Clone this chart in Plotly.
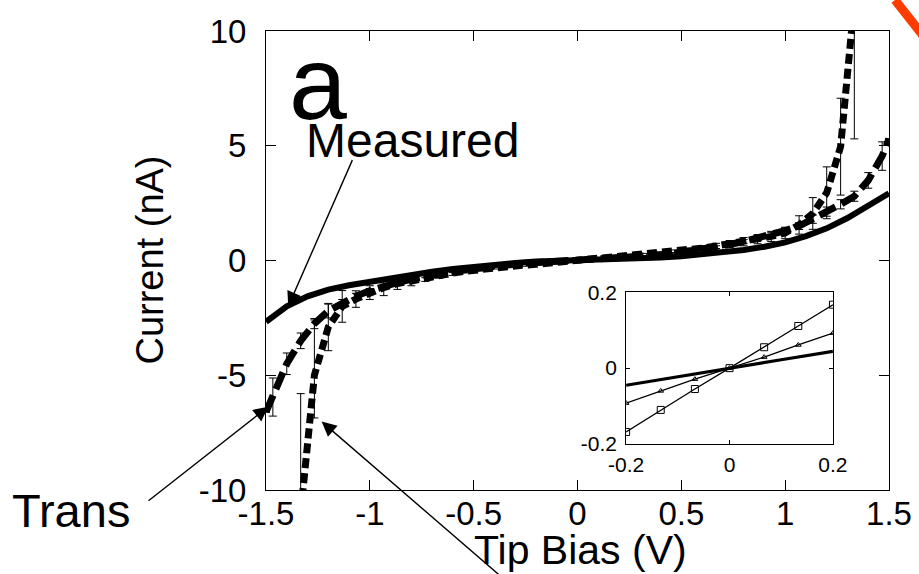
import plotly.graph_objects as go

# ---- main panel data: tip bias (V) vs tunnelling current (nA) ----
bias_measured = [-1.5, -1.4, -1.3, -1.2, -1.1, -1.0, -0.9, -0.8, -0.7, -0.6, -0.5,
                 -0.4, -0.3, -0.2, -0.1, 0.0, 0.1, 0.2, 0.3, 0.4, 0.5, 0.6, 0.7,
                 0.8, 0.9, 1.0, 1.1, 1.2, 1.3, 1.4, 1.5]
current_measured = [-2.67, -2.0, -1.56, -1.27, -1.08, -0.92, -0.76, -0.62, -0.49, -0.37, -0.27,
                    -0.18, -0.11, -0.045, -0.022, 0.0, 0.022, 0.044, 0.08, 0.13, 0.19, 0.26, 0.35,
                    0.46, 0.6, 0.79, 1.06, 1.4, 1.85, 2.37, 2.93]

bias_trans = [-1.5, -1.467, -1.4, -1.333, -1.267, -1.2, -1.133, -1.067, -1.0, -0.933, -0.867,
              -0.8, -0.733, -0.667, -0.6, -0.533, -0.467, -0.4, -0.333, -0.267, -0.2, -0.133,
              -0.067, 0.0, 0.067, 0.133, 0.2, 0.267, 0.333, 0.4, 0.467, 0.533, 0.6, 0.667,
              0.733, 0.8, 0.867, 0.933, 1.0, 1.067, 1.133, 1.2, 1.267, 1.333, 1.4, 1.467, 1.5]
current_trans = [-6.6, -5.95, -4.5, -3.5, -2.75, -2.2, -1.85, -1.55, -1.32, -1.12, -0.96,
                 -0.82, -0.69, -0.58, -0.48, -0.39, -0.31, -0.24, -0.18, -0.13, -0.092, -0.06,
                 -0.029, 0.0, 0.029, 0.061, 0.092, 0.13, 0.18, 0.24, 0.31, 0.39, 0.48, 0.58,
                 0.7, 0.83, 0.97, 1.13, 1.3, 1.5, 1.8, 2.13, 2.45, 2.8, 3.49, 4.55, 5.3]
err_trans = [0.0, 0.83, 0.47, 0.34, 0.22, 0.3, 0.15, 0.12, 0.1, 0.09, 0.08,
             0.07, 0.06, 0.06, 0.05, 0.05, 0.04, 0.04, 0.03, 0.03, 0.02, 0.02,
             0.02, 0.0, 0.02, 0.02, 0.02, 0.03, 0.03, 0.04, 0.04, 0.05, 0.05, 0.06,
             0.07, 0.08, 0.09, 0.1, 0.12, 0.15, 0.18, 0.2, 0.2, 0.22, 0.34, 0.62, 0.0]

bias_third = [-1.333, -1.267, -1.2, -1.133, -1.067, -1.0, -0.933, -0.867, -0.8, -0.733,
              -0.667, -0.6, -0.533, -0.467, -0.4, -0.333, -0.267, -0.2, -0.133, -0.067,
              0.0, 0.067, 0.133, 0.2, 0.267, 0.333, 0.4, 0.467, 0.533, 0.6, 0.667,
              0.733, 0.8, 0.867, 0.933, 1.0, 1.067, 1.133, 1.2, 1.267, 1.333]
current_third = [-11.0, -5.0, -2.9, -2.0, -1.68, -1.4, -1.18, -1.01, -0.88, -0.76,
                 -0.65, -0.55, -0.46, -0.38, -0.31, -0.25, -0.21, -0.168, -0.11, -0.055,
                 0.0, 0.055, 0.111, 0.167, 0.21, 0.26, 0.32, 0.39, 0.46, 0.54, 0.63,
                 0.72, 0.82, 0.93, 1.05, 1.2, 1.55, 2.05, 2.95, 4.96, 11.3]
err_third_up = [5.2, 2.41, 1.03, 0.69, 0.36, 0.3, 0.35, 0.25, 0.22, 0.15,
                0.12, 0.1, 0.08, 0.07, 0.06, 0.05, 0.04, 0.03, 0.02, 0.02,
                0.0, 0.02, 0.02, 0.03, 0.04, 0.05, 0.06, 0.07, 0.08, 0.1, 0.12,
                0.15, 0.18, 0.2, 0.22, 0.25, 0.4, 0.69, 1.13, 2.11, 6.0]
err_third_down = [5.2, 1.86, 1.03, 0.69, 0.36, 0.3, 0.35, 0.25, 0.22, 0.15,
                  0.12, 0.1, 0.08, 0.07, 0.06, 0.05, 0.04, 0.03, 0.02, 0.02,
                  0.0, 0.02, 0.02, 0.03, 0.04, 0.05, 0.06, 0.07, 0.08, 0.1, 0.12,
                  0.15, 0.18, 0.2, 0.22, 0.25, 0.4, 0.69, 1.13, 2.11, 6.0]

# ---- tick labels ----
main_xticks = [-1.5, -1.0, -0.5, 0.0, 0.5, 1.0, 1.5]
main_xtext = ["-1.5", "-1", "-0.5", "0", "0.5", "1", "1.5"]
main_yticks = [-10, -5, 0, 5, 10]
main_ytext = ["-10", "-5", "0", "5", "10"]
inset_ticks = [-0.2, 0.0, 0.2]
inset_text = ["-0.2", "0", "0.2"]
inset_limit = 0.2

FONT = "Liberation Sans, Arial, sans-serif"
INK = "black"


def near_zero(xs, ys):
    keep = [(a, b) for a, b in zip(xs, ys) if abs(a) <= inset_limit + 1e-9]
    return [k[0] for k in keep], [k[1] for k in keep]


fig = go.Figure()

# measured curve (solid)
fig.add_trace(go.Scatter(x=bias_measured, y=current_measured, mode="lines",
                         line=dict(color=INK, width=6), xaxis="x", yaxis="y"))
# transmission curve (long dashes) with error bars
fig.add_trace(go.Scatter(x=bias_trans, y=current_trans, mode="lines",
                         line=dict(color=INK, width=7, dash="18px,7px"),
                         error_y=dict(type="data", array=err_trans, color=INK,
                                      thickness=1, width=4),
                         xaxis="x", yaxis="y"))
# third curve (short dashes) with error bars
fig.add_trace(go.Scatter(x=bias_third, y=current_third, mode="lines",
                         line=dict(color=INK, width=7, dash="10px,5px"),
                         error_y=dict(type="data", symmetric=False, array=err_third_up,
                                      arrayminus=err_third_down, color=INK,
                                      thickness=1, width=4),
                         xaxis="x", yaxis="y"))

# ---- inset: low-bias region ----
ix, iy = near_zero(bias_measured, current_measured)
fig.add_trace(go.Scatter(x=ix, y=iy, mode="lines", line=dict(color=INK, width=3.2),
                         xaxis="x2", yaxis="y2"))
ix, iy = near_zero(bias_trans, current_trans)
fig.add_trace(go.Scatter(x=ix, y=iy, mode="lines+markers", line=dict(color=INK, width=1.3),
                         marker=dict(symbol="triangle-up-open", size=5, color=INK,
                                     line=dict(width=1)),
                         xaxis="x2", yaxis="y2"))
ix, iy = near_zero(bias_third, current_third)
fig.add_trace(go.Scatter(x=ix, y=iy, mode="lines+markers", line=dict(color=INK, width=1.3),
                         marker=dict(symbol="square-open", size=7, color=INK,
                                     line=dict(width=1)),
                         xaxis="x2", yaxis="y2"))

axis_common = dict(showgrid=False, zeroline=False, showline=True, linecolor=INK,
                   linewidth=1, ticks="inside", tickcolor=INK, tickwidth=1,
                   mirror="ticks", automargin=False)

fig.update_layout(
    width=919, height=574, autosize=False,
    margin=dict(l=266, r=30, t=31, b=84, autoexpand=False),
    paper_bgcolor="white", plot_bgcolor="white",
    showlegend=False,
    font=dict(family=FONT, color=INK),
    xaxis=dict(range=[-1.5, 1.5], tickvals=main_xticks, ticktext=main_xtext,
               ticklen=10, tickfont=dict(size=33), ticklabelstandoff=-6,
               domain=[0, 1], anchor="y", **axis_common),
    yaxis=dict(range=[-10, 10], tickvals=main_yticks, ticktext=main_ytext,
               ticklen=10, tickfont=dict(size=33), ticklabelstandoff=12,
               domain=[0, 1], anchor="x", **axis_common),
    xaxis2=dict(range=[-0.2, 0.2], tickvals=inset_ticks, ticktext=inset_text,
                ticklen=4, tickfont=dict(size=21), ticklabelstandoff=2,
                domain=[0.578, 0.910], anchor="y2", **axis_common),
    yaxis2=dict(range=[-0.2, 0.2], tickvals=inset_ticks, ticktext=inset_text,
                ticklen=4, tickfont=dict(size=21), ticklabelstandoff=4,
                domain=[0.100, 0.431], anchor="x2", **axis_common),
)

annotations = [
    dict(text="a", x=0.0827, y=0.887, xref="paper", yref="paper", showarrow=False,
         xanchor="center", yanchor="middle", font=dict(size=104)),
    dict(text="Measured", x=0.061, y=0.762, xref="paper", yref="paper", showarrow=False,
         xanchor="left", yanchor="middle", font=dict(size=48)),
    dict(text="Trans", x=-0.411, y=-0.045, xref="paper", yref="paper", showarrow=False,
         xanchor="left", yanchor="middle", font=dict(size=47)),
    dict(text="Current (nA)", x=-0.1854, y=0.501, xref="paper", yref="paper",
         showarrow=False, textangle=-90, xanchor="center", yanchor="middle",
         font=dict(size=38)),
    dict(text="Tip Bias (V)", x=0.5056, y=-0.1318, xref="paper", yref="paper",
         showarrow=False, xanchor="center", yanchor="middle", font=dict(size=41)),
]

# pointer arrows (tail -> head in data units)
pointers = [
    ((-1.081, 4.44), (-1.393, -2.0)),
    ((-2.073, -10.52), (-1.489, -6.37)),
    ((-0.349, -13.92), (-1.232, -7.02)),
]
for (tx, ty), (hx, hy) in pointers:
    annotations.append(dict(text="", x=hx, y=hy, xref="x", yref="y",
                            ax=tx, ay=ty, axref="x", ayref="y",
                            showarrow=True, arrowhead=2, arrowsize=2.1,
                            arrowwidth=1.4, arrowcolor=INK, standoff=0))
fig.update_layout(annotations=annotations)

# orange-red stroke in the upper right corner
fig.add_shape(type="line", xref="paper", yref="paper",
              x0=1.0096, y0=1.0675, x1=1.0578, y1=0.9847,
              line=dict(color="#ff3c00", width=9))

fig.write_html("out.html")
